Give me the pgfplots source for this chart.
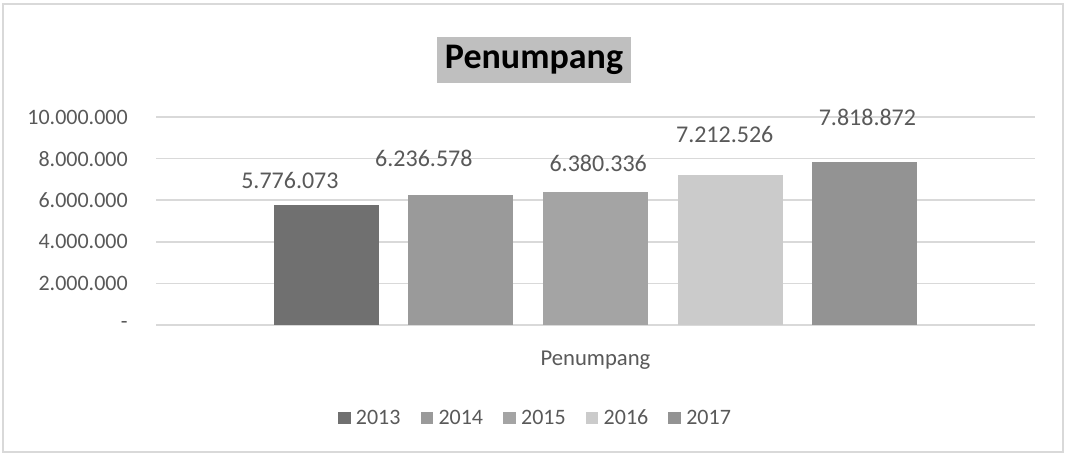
\documentclass[border=0pt]{standalone}
\usepackage{fontspec}
\setmainfont{Carlito}
\usepackage{pgfplots}
\pgfplotsset{compat=1.18}
\definecolor{txt}{HTML}{595959}
\definecolor{gridc}{HTML}{D9D9D9}
\definecolor{c13}{HTML}{707070}
\definecolor{c14}{HTML}{9A9A9A}
\definecolor{c15}{HTML}{A4A4A4}
\definecolor{c16}{HTML}{CBCBCB}
\definecolor{c17}{HTML}{939393}
\definecolor{ttl}{HTML}{BFBFBF}

\begin{document}
\begin{tikzpicture}
\useasboundingbox (0,0) rectangle (799.5pt,341.25pt);
\fill[white] (0,0) rectangle (799.5pt,341.25pt);
\draw[gridc, line width=1.5pt] (2.5pt,2.5pt) rectangle (797pt,338.5pt);
\node[fill=ttl, font=\fontsize{27}{30}\selectfont\bfseries, text=black,
  minimum width=145.5pt, minimum height=35pt, inner sep=0pt] at (400.5pt,296.25pt) {Penumpang};
\begin{axis}[
 at={(117pt,97.5pt)}, anchor=south west, scale only axis,
 width=659.25pt, height=156pt,
 xmin=-1.265, xmax=5.265, ymin=0, ymax=10000000,
 ybar, bar width=0.78, bar shift=0pt,
 xtick=\empty,
 ytick={0,2000000,4000000,6000000,8000000,10000000},
 yticklabels={-,2.000.000,4.000.000,6.000.000,8.000.000,10.000.000},
 scaled y ticks=false,
 yticklabel style={font=\fontsize{16.5}{18}\selectfont, text=txt, inner sep=0pt, xshift=-21pt},
 axis line style={draw=none}, tick style={draw=none},
 ymajorgrids, grid style={gridc, line width=1.1pt},
 xlabel={Penumpang},
 xlabel style={at={(axis description cs:0.5,0)}, anchor=center, yshift=-26.25pt,
   font=\fontsize{17}{19}\selectfont, text=txt},
 clip=false,
 legend columns=-1,
 legend style={at={(axis description cs:0.432,-0.447)}, anchor=center, draw=none,
   fill=none, font=\fontsize{16.5}{18}\selectfont, text=txt,
   /tikz/every odd column/.append style={column sep=2pt},
   /tikz/every even column/.append style={column sep=13pt}},
 legend image code/.code={\fill[#1] (0pt,-4.5pt) rectangle (9.5pt,4.5pt);},
]
\addplot[fill=c13, draw=none] coordinates {(0,5776073)};
\addlegendentry{2013}
\addplot[fill=c14, draw=none] coordinates {(1,6236578)};
\addlegendentry{2014}
\addplot[fill=c15, draw=none] coordinates {(2,6380336)};
\addlegendentry{2015}
\addplot[fill=c16, draw=none] coordinates {(3,7212526)};
\addlegendentry{2016}
\addplot[fill=c17, draw=none] coordinates {(4,7818872)};
\addlegendentry{2017}
\tikzset{lbl/.style={font=\fontsize{18}{20}\selectfont, text=txt, anchor=center}}
\node[lbl] at (axis cs:-0.27,6970000) {5.776.073};
\node[lbl] at (axis cs:0.725,8000000) {6.236.578};
\node[lbl] at (axis cs:2.02,7790000) {6.380.336};
\node[lbl] at (axis cs:2.96,9140000) {7.212.526};
\node[lbl] at (axis cs:4.02,10000000) {7.818.872};
\end{axis}
\end{tikzpicture}
\end{document}
